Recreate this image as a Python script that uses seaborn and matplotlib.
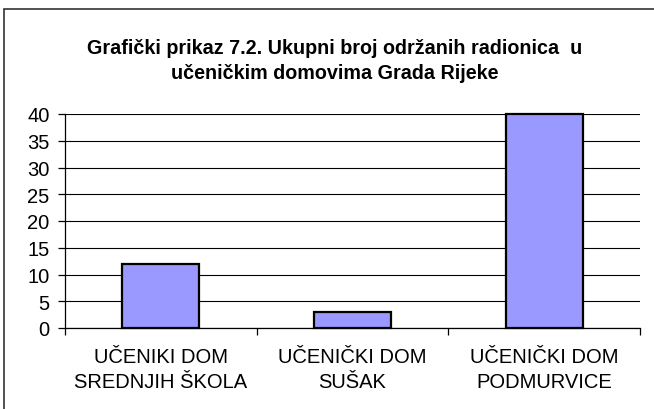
import matplotlib
matplotlib.use("Agg")
import matplotlib.pyplot as plt
import seaborn as sns
from matplotlib.patches import Rectangle

# data
categories = ["UČENIKI DOM\nSREDNJIH ŠKOLA", "UČENIČKI DOM\nSUŠAK", "UČENIČKI DOM\nPODMURVICE"]
workshops = [12, 3, 40]
y_ticks = [0, 5, 10, 15, 20, 25, 30, 35, 40]
title = "Grafički prikaz 7.2. Ukupni broj održanih radionica  u\nučeničkim domovima Grada Rijeke"

sns.set_style("white")
plt.rcParams["font.family"] = ["Liberation Sans", "DejaVu Sans"]
plt.rcParams["text.color"] = "black"
plt.rcParams["xtick.color"] = "black"
plt.rcParams["ytick.color"] = "black"
plt.rcParams["xtick.labelcolor"] = "black"
plt.rcParams["ytick.labelcolor"] = "black"

fig = plt.figure(figsize=(6.54, 4.10), dpi=100)
ax = fig.add_axes([65 / 654, 1 - 329 / 410, (640 - 65) / 654, (329 - 115) / 410])

sns.barplot(x=categories, y=workshops, color="#9999FF", saturation=1,
            edgecolor="black", linewidth=1.6, width=0.4, ax=ax, zorder=3)
for bar in ax.patches:
    bar.set_clip_on(False)

ax.set_ylim(0, 40)
ax.set_xlim(-0.5, 2.5)
ax.set_yticks(y_ticks)
ax.yaxis.grid(True, color="black", linewidth=0.8, zorder=0)
ax.set_axisbelow(True)
for side in ["top", "right"]:
    ax.spines[side].set_visible(False)
for side in ["left", "bottom"]:
    ax.spines[side].set_color("black")
    ax.spines[side].set_linewidth(0.9)

ax.tick_params(axis="y", direction="out", length=5, width=0.9, pad=6,
               labelsize=14.5, left=True, colors="black")
ax.set_xticks([0, 1, 2])
ax.set_xticklabels(categories, fontsize=14.5, linespacing=1.4, color="black")
ax.tick_params(axis="x", which="major", length=0, pad=14)
ax.set_xticks([-0.5, 0.5, 1.5, 2.5], minor=True)
ax.tick_params(axis="x", which="minor", direction="out", length=5, width=0.9,
               bottom=True, colors="black")
ax.set_xlabel("")
ax.set_ylabel("")

fig.text(335 / 654, 1 - 61 / 410, title, ha="center", va="center",
         fontsize=14.2, fontweight="bold", linespacing=1.45, color="black")

# outer chart-area border (cut off at right and bottom in the reference)
fig.patches.append(Rectangle((4 / 654, -0.05), 1.2, 1 - 10 / 410 + 0.05,
                             transform=fig.transFigure, fill=False,
                             edgecolor="#333333", linewidth=1.2))

plt.savefig("out.png", dpi=100)
plt.close()
